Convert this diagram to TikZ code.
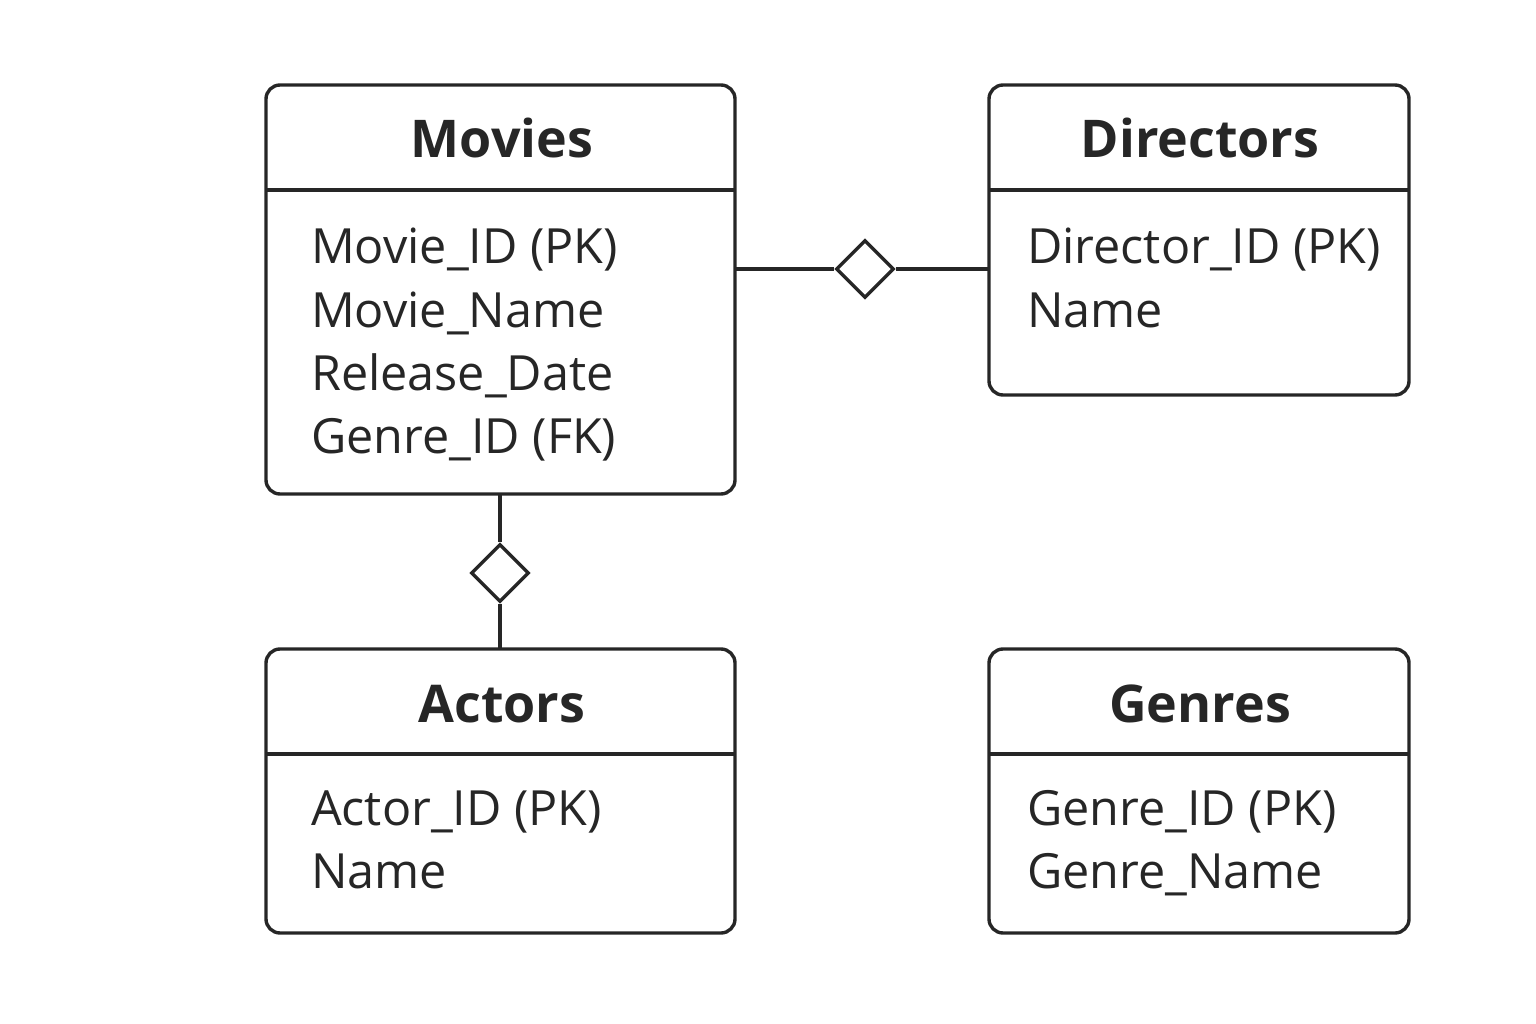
\documentclass[tikz,border=0pt]{standalone}
\usepackage{fontspec}
\setmainfont{Open Sans}
\usetikzlibrary{shapes.geometric}
\begin{document}
\begin{tikzpicture}[x=1pt,y=-1pt,
  ink/.style={draw=black!85, line width=3.4pt},
  entbox/.style={ink, rounded corners=14pt},
  ttl/.style={font=\fontsize{52}{56}\selectfont\bfseries, text=black!85, anchor=base},
  attr/.style={font=\fontsize{48.5}{54}\selectfont, text=black!85, anchor=base west, inner sep=0pt},
  rel/.style={ink, fill=white, diamond, minimum width=58pt, minimum height=58pt, inner sep=0pt}
]
\useasboundingbox (0,0) rectangle (1536,1024);
% Movies
\draw[entbox] (266,85) rectangle (735,494);
\draw[ink] (266,190) -- (735,190);
\node[ttl] (tmov) at (502,158) {Movies};
\node[attr] (m1) at (311,264) {Movie\_ID (PK)};
\node[attr] (m2) at (311,327) {Movie\_Name};
\node[attr] (m3) at (311,390) {Release\_Date};
\node[attr] (m4) at (311,453) {Genre\_ID (FK)};
% Directors
\draw[entbox] (989,85) rectangle (1409,395);
\draw[ink] (989,190) -- (1409,190);
\node[ttl] (tdir) at (1200,158) {Directors};
\node[attr] (d1) at (1027,264) {Director\_ID (PK)};
\node[attr] (d2) at (1027,327) {Name};
% Actors
\draw[entbox] (266,649) rectangle (735,933);
\draw[ink] (266,754) -- (735,754);
\node[ttl] (tact) at (502,722) {Actors};
\node[attr] (a1) at (311,825) {Actor\_ID (PK)};
\node[attr] (a2) at (311,888) {Name};
% Genres
\draw[entbox] (989,649) rectangle (1409,933);
\draw[ink] (989,754) -- (1409,754);
\node[ttl] (tgen) at (1200,722) {Genres};
\node[attr] (g1) at (1027,825) {Genre\_ID (PK)};
\node[attr] (g2) at (1027,888) {Genre\_Name};
% connectors
\coordinate (mR) at (735,269);
\coordinate (dL) at (989,269);
\coordinate (mB) at (500,494);
\coordinate (aT) at (500,649);
\node[rel] (rdir) at (865,269) {};
\node[rel] (ract) at (500,573) {};
\draw[ink] (mR) -- (rdir.west);
\draw[ink] (rdir.east) -- (dL);
\draw[ink] (mB) -- (ract.north);
\draw[ink] (ract.south) -- (aT);
\end{tikzpicture}
\end{document}
